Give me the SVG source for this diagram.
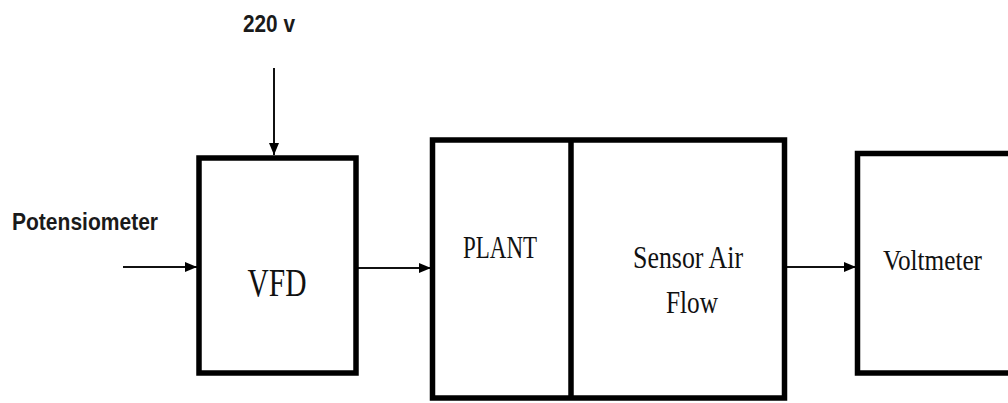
<svg xmlns="http://www.w3.org/2000/svg" width="1008" height="403" viewBox="0 0 1008 403">
<defs>
<marker id="ah" markerWidth="12" markerHeight="10" refX="12" refY="5" orient="auto" markerUnits="userSpaceOnUse">
<path d="M0,0 L12,5 L0,10 Z" fill="#000"/>
</marker>
<style>
.box{fill:#fff;stroke:#000;stroke-width:5.5}
.line{fill:none;stroke:#000;stroke-width:5.5}
.conn{fill:none;stroke:#111;stroke-width:2}
.lbl{font-family:"Liberation Sans",Arial,sans-serif;font-weight:bold;fill:#1a1a1a}
.ser{font-family:"Liberation Serif","Times New Roman",serif;fill:#111}
</style>
</defs>
<rect width="1008" height="403" fill="#fff"/>
<text class="lbl" x="243" y="32" font-size="24" textLength="52" lengthAdjust="spacingAndGlyphs">220 v</text>
<text class="lbl" x="12" y="230" font-size="24" textLength="146" lengthAdjust="spacingAndGlyphs">Potensiometer</text>
<g id="connectors">
<line class="conn" x1="274" y1="68" x2="274" y2="155" marker-end="url(#ah)"/>
<line class="conn" x1="123" y1="267" x2="197" y2="267" marker-end="url(#ah)"/>
<line class="conn" x1="358" y1="268" x2="431" y2="268" marker-end="url(#ah)"/>
<line class="conn" x1="787" y1="267" x2="856" y2="267" marker-end="url(#ah)"/>
</g>
<g id="vfd">
<rect class="box" x="199" y="158" width="157" height="215"/>
<text class="ser" x="277" y="296" font-size="40" text-anchor="middle" textLength="59" lengthAdjust="spacingAndGlyphs">VFD</text>
</g>
<g id="plant">
<rect class="box" x="432.5" y="140" width="352" height="258"/>
<line class="line" x1="571" y1="140" x2="571" y2="398"/>
<text class="ser" x="500" y="258" font-size="31" text-anchor="middle" textLength="74" lengthAdjust="spacingAndGlyphs">PLANT</text>
</g>
<g id="sensor">
<text class="ser" x="688" y="268" font-size="32" text-anchor="middle" textLength="110" lengthAdjust="spacingAndGlyphs">Sensor Air</text>
<text class="ser" x="692" y="313" font-size="32" text-anchor="middle" textLength="52" lengthAdjust="spacingAndGlyphs">Flow</text>
</g>
<g id="voltmeter">
<rect class="box" x="857.5" y="153.5" width="200" height="219.5"/>
<text class="ser" x="883" y="270" font-size="30" textLength="99" lengthAdjust="spacingAndGlyphs">Voltmeter</text>
</g>
</svg>
